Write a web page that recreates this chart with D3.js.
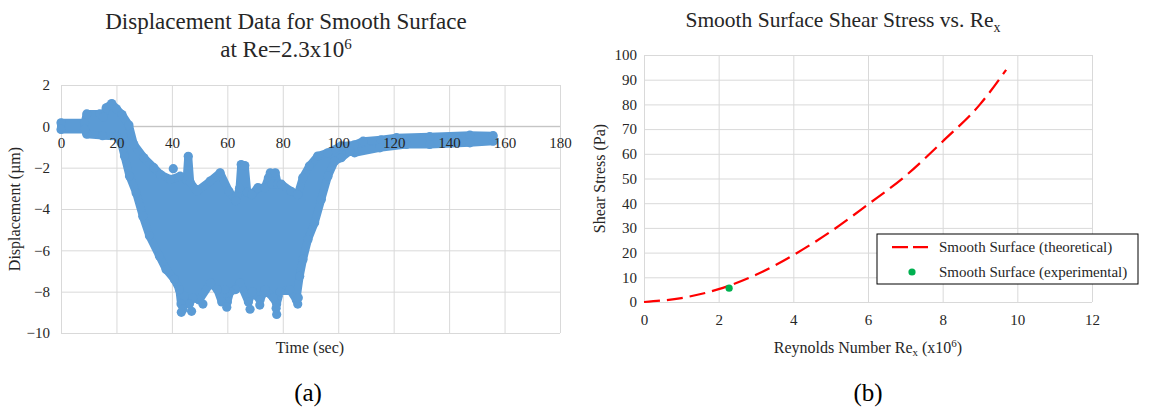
<!DOCTYPE html>
<html>
<head>
<meta charset="utf-8">
<script src="https://cdn.jsdelivr.net/npm/d3@7"></script>
<style>
  body { margin: 0; background: #fff; }
  svg text { font-family: "Liberation Serif", Tinos, "Times New Roman", "DejaVu Serif", serif !important; }
</style>
</head>
<body>
<svg id="fig" width="1153" height="411"></svg>
<script>
// ---- (a) displacement record: outer edges of the dense point cloud (time s, displacement um)
const bandUpper = [
  [0, 0.17], [8.5, 0.17], [9.3, 0.6], [14, 0.6], [15.3, 0.45], [16.3, 0.9], [18.3, 1.1],
  [20, 0.85], [22, 0.57], [24.5, 0.06], [26.3, -0.88], [29.9, -1.52], [33.5, -2.0],
  [35.9, -2.33], [39.5, -2.57], [43, -2.41], [45.3, -2.6], [45.9, -1.45], [46.6, -2.7],
  [49, -3.14], [53.8, -2.65], [57.4, -2.25], [60.6, -3.14], [63, -3.6], [64.4, -3.0],
  [65, -1.85], [66.3, -1.9], [67.2, -3.2], [68.8, -3.3], [71, -2.97], [73.5, -2.97],
  [74.8, -2.5], [75.5, -2.25], [76.2, -2.8], [77.3, -2.25], [78.2, -2.8], [79.5, -2.8],
  [83, -3.14], [85.4, -3.3], [87.2, -2.49], [89.6, -1.92], [92.6, -1.44], [96.2, -1.28],
  [101, -0.95], [105.8, -0.9], [109, -0.72], [115.4, -0.65], [121, -0.55], [133, -0.5],
  [147.5, -0.43], [155.9, -0.45]
];
const bandLower = [
  [0, -0.15], [8.5, -0.15], [9.3, -0.38], [15, -0.45], [20, -0.48], [21.7, -0.8],
  [22.9, -1.44], [24.7, -2.4], [27.1, -3.22], [29.5, -4.35], [31.9, -5.3], [35.5, -6.28],
  [37.9, -6.93], [40.9, -7.41], [42.7, -7.9], [43.3, -8.6], [44.5, -8.2], [46.3, -8.6],
  [47.5, -8.3], [49.9, -8.4], [54, -7.57], [56.4, -7.9], [58, -8.5], [59, -7.9],
  [60, -8.5], [61, -8.0], [63, -7.9], [64.6, -7.57], [67.6, -8.5], [69, -8.0],
  [71.8, -8.4], [73.6, -7.9], [76.6, -8.3], [77.8, -8.6], [79, -8.0], [82.5, -7.9],
  [84.9, -8.4], [86.1, -7.25], [87.3, -6.44], [89.1, -5.48], [91.5, -4.67], [93.9, -3.54],
  [96.3, -2.41], [98.7, -1.69], [101.1, -1.52], [104.2, -1.2], [105.9, -1.28], [115, -1.04],
  [124.6, -0.88], [133, -0.88], [147.5, -0.8], [155.9, -0.72]
];
// loose points sitting outside the band
const strayPoints = [
  [40.5, -2.05], [43.4, -9.0], [44, -8.85], [47.1, -8.95], [51.2, -8.6], [59.8, -8.75],
  [68.2, -8.85], [71.7, -8.65], [77.8, -9.1], [77.6, -8.8], [85.4, -8.6], [85.6, -8.3]
];
const timeTicks = [0, 20, 40, 60, 80, 100, 120, 140, 160, 180];
const dispTicks = [2, 0, -2, -4, -6, -8, -10];

// ---- (b) shear stress vs Re_x (x10^6)
const reTheory = [0, 1, 2, 3, 4, 5, 6, 7, 8, 9, 9.7];
const tauTheory = [0, 1.6, 5.2, 11, 19, 28.5, 39.5, 51, 65, 80, 94];
const reExp = [2.28];
const tauExp = [5.6];
const reTicks = [0, 2, 4, 6, 8, 10, 12];
const tauTicks = [0, 10, 20, 30, 40, 50, 60, 70, 80, 90, 100];

const BLUE = "#5b9bd5", GRID = "#d9d9d9", INK = "#262626";
const SERIF = "'Liberation Serif', Tinos, 'Times New Roman', 'DejaVu Serif', serif";
const svg = d3.select("#fig");

// ===================== panel (a) =====================
const xa = d3.scaleLinear().domain([0, 180]).range([61, 560]);
const ya = d3.scaleLinear().domain([-10, 2]).range([333, 85]);

const ga = svg.append("g");
ga.append("g").attr("transform", `translate(0,${ya(-10)})`)
  .call(d3.axisBottom(xa).tickValues(timeTicks).tickSize(-(ya(-10) - ya(2))).tickFormat(""))
  .call(g => g.select(".domain").remove())
  .call(g => g.selectAll("line").attr("stroke", GRID));
ga.append("g").attr("transform", `translate(${xa(0)},0)`)
  .call(d3.axisLeft(ya).tickValues(dispTicks).tickSize(-(xa(180) - xa(0))).tickFormat(d3.format("d")))
  .attr("font-family", SERIF)
  .call(g => g.select(".domain").remove())
  .call(g => g.selectAll("line").attr("stroke", GRID))
  .call(g => g.selectAll("text").attr("x", -11).attr("fill", INK).style("font-size", "15px"));
ga.append("line").attr("x1", xa(0)).attr("x2", xa(180)).attr("y1", ya(0)).attr("y2", ya(0))
  .attr("stroke", "#bfbfbf");

// point cloud
const outline = bandUpper.concat(bandLower.slice().reverse());
ga.append("path")
  .datum(outline)
  .attr("d", d3.line().x(d => xa(d[0])).y(d => ya(d[1])).curve(d3.curveLinearClosed))
  .attr("fill", BLUE).attr("stroke", BLUE).attr("stroke-width", 8)
  .attr("stroke-linejoin", "round");
// markers on the band edges give the dotted rim of the cloud
ga.selectAll("circle.rim").data(outline.concat(strayPoints)).join("circle")
  .attr("class", "rim")
  .attr("cx", d => xa(d[0])).attr("cy", d => ya(d[1])).attr("r", 4.6).attr("fill", BLUE);

// x tick labels sit on the zero line
ga.append("g").attr("transform", `translate(0,${ya(0)})`)
  .call(d3.axisBottom(xa).tickValues(timeTicks).tickSize(0).tickPadding(11))
  .attr("font-family", SERIF)
  .call(g => g.select(".domain").remove())
  .call(g => g.selectAll("text").attr("fill", INK).style("font-size", "15px"));

ga.append("text").attr("x", 286).attr("y", 29).attr("text-anchor", "middle")
  .attr("fill", INK).style("font-size", "23px").text("Displacement Data for Smooth Surface");
const ta2 = ga.append("text").attr("x", 286).attr("y", 57).attr("text-anchor", "middle")
  .attr("fill", INK).style("font-size", "23px");
ta2.append("tspan").text("at Re=2.3x10");
ta2.append("tspan").attr("dy", -8).style("font-size", "15px").text("6");

ga.append("text").attr("x", 310).attr("y", 353).attr("text-anchor", "middle")
  .attr("fill", INK).style("font-size", "16px").text("Time (sec)");
ga.append("text").attr("transform", `translate(20,${(ya(2) + ya(-10)) / 2}) rotate(-90)`)
  .attr("text-anchor", "middle").attr("fill", INK).style("font-size", "16px")
  .text("Displacement (\u00b5m)");
ga.append("text").attr("x", 308).attr("y", 401).attr("text-anchor", "middle")
  .attr("fill", "#000").style("font-size", "25px").text("(a)");

// ===================== panel (b) =====================
const xb = d3.scaleLinear().domain([0, 12]).range([644, 1092]);
const yb = d3.scaleLinear().domain([0, 100]).range([302, 55]);

const gb = svg.append("g");
gb.append("g").attr("transform", `translate(0,${yb(0)})`)
  .call(d3.axisBottom(xb).tickValues(reTicks).tickSize(-(yb(0) - yb(100))).tickPadding(12))
  .attr("font-family", SERIF)
  .call(g => g.select(".domain").remove())
  .call(g => g.selectAll("line").attr("stroke", GRID))
  .call(g => g.selectAll("text").attr("fill", INK).style("font-size", "15px"));
gb.append("g").attr("transform", `translate(${xb(0)},0)`)
  .call(d3.axisLeft(yb).tickValues(tauTicks).tickSize(-(xb(12) - xb(0))).tickPadding(7))
  .attr("font-family", SERIF)
  .call(g => g.select(".domain").remove())
  .call(g => g.selectAll("line").attr("stroke", GRID))
  .call(g => g.selectAll("text").attr("fill", INK).style("font-size", "15px"));

const theory = reTheory.map((r, i) => ({ re: r, tau: tauTheory[i] }));
gb.append("path").datum(theory)
  .attr("d", d3.line().x(d => xb(d.re)).y(d => yb(d.tau)).curve(d3.curveMonotoneX))
  .attr("fill", "none").attr("stroke", "#ff0000").attr("stroke-width", 2.25)
  .attr("stroke-dasharray", "16,7");
gb.selectAll("circle.exp").data(reExp.map((r, i) => ({ re: r, tau: tauExp[i] }))).join("circle")
  .attr("class", "exp")
  .attr("cx", d => xb(d.re)).attr("cy", d => yb(d.tau)).attr("r", 3.6).attr("fill", "#00b050");

// legend
const lg = gb.append("g").attr("transform", "translate(877,234)");
lg.append("rect").attr("width", 261).attr("height", 50).attr("fill", "#fff")
  .attr("stroke", "#000").attr("stroke-width", 1);
lg.append("line").attr("x1", 15).attr("x2", 51).attr("y1", 13).attr("y2", 13)
  .attr("stroke", "#ff0000").attr("stroke-width", 2.25).attr("stroke-dasharray", "16,5");
lg.append("circle").attr("cx", 35).attr("cy", 38).attr("r", 3.6).attr("fill", "#00b050");
lg.append("text").attr("x", 62).attr("y", 18).attr("fill", INK).style("font-size", "15px")
  .text("Smooth Surface (theoretical)");
lg.append("text").attr("x", 62).attr("y", 43).attr("fill", INK).style("font-size", "15px")
  .text("Smooth Surface (experimental)");

// titles
const tb = gb.append("text").attr("x", 843).attr("y", 27).attr("text-anchor", "middle")
  .attr("fill", INK).style("font-size", "21.5px");
tb.append("tspan").text("Smooth Surface Shear Stress vs. Re");
tb.append("tspan").attr("dy", 5).style("font-size", "14px").text("x");

const xt = gb.append("text").attr("x", 868).attr("y", 353).attr("text-anchor", "middle")
  .attr("fill", INK).style("font-size", "16px");
xt.append("tspan").text("Reynolds Number Re");
xt.append("tspan").attr("dy", 3).style("font-size", "11px").text("x");
xt.append("tspan").attr("dy", -3).text(" (x10");
xt.append("tspan").attr("dy", -6).style("font-size", "11px").text("6");
xt.append("tspan").attr("dy", 6).text(")");

gb.append("text").attr("transform", `translate(605,${(yb(0) + yb(100)) / 2}) rotate(-90)`)
  .attr("text-anchor", "middle").attr("fill", INK).style("font-size", "16px")
  .text("Shear Stress (Pa)");
gb.append("text").attr("x", 868).attr("y", 401).attr("text-anchor", "middle")
  .attr("fill", "#000").style("font-size", "25px").text("(b)");
</script>
</body>
</html>
